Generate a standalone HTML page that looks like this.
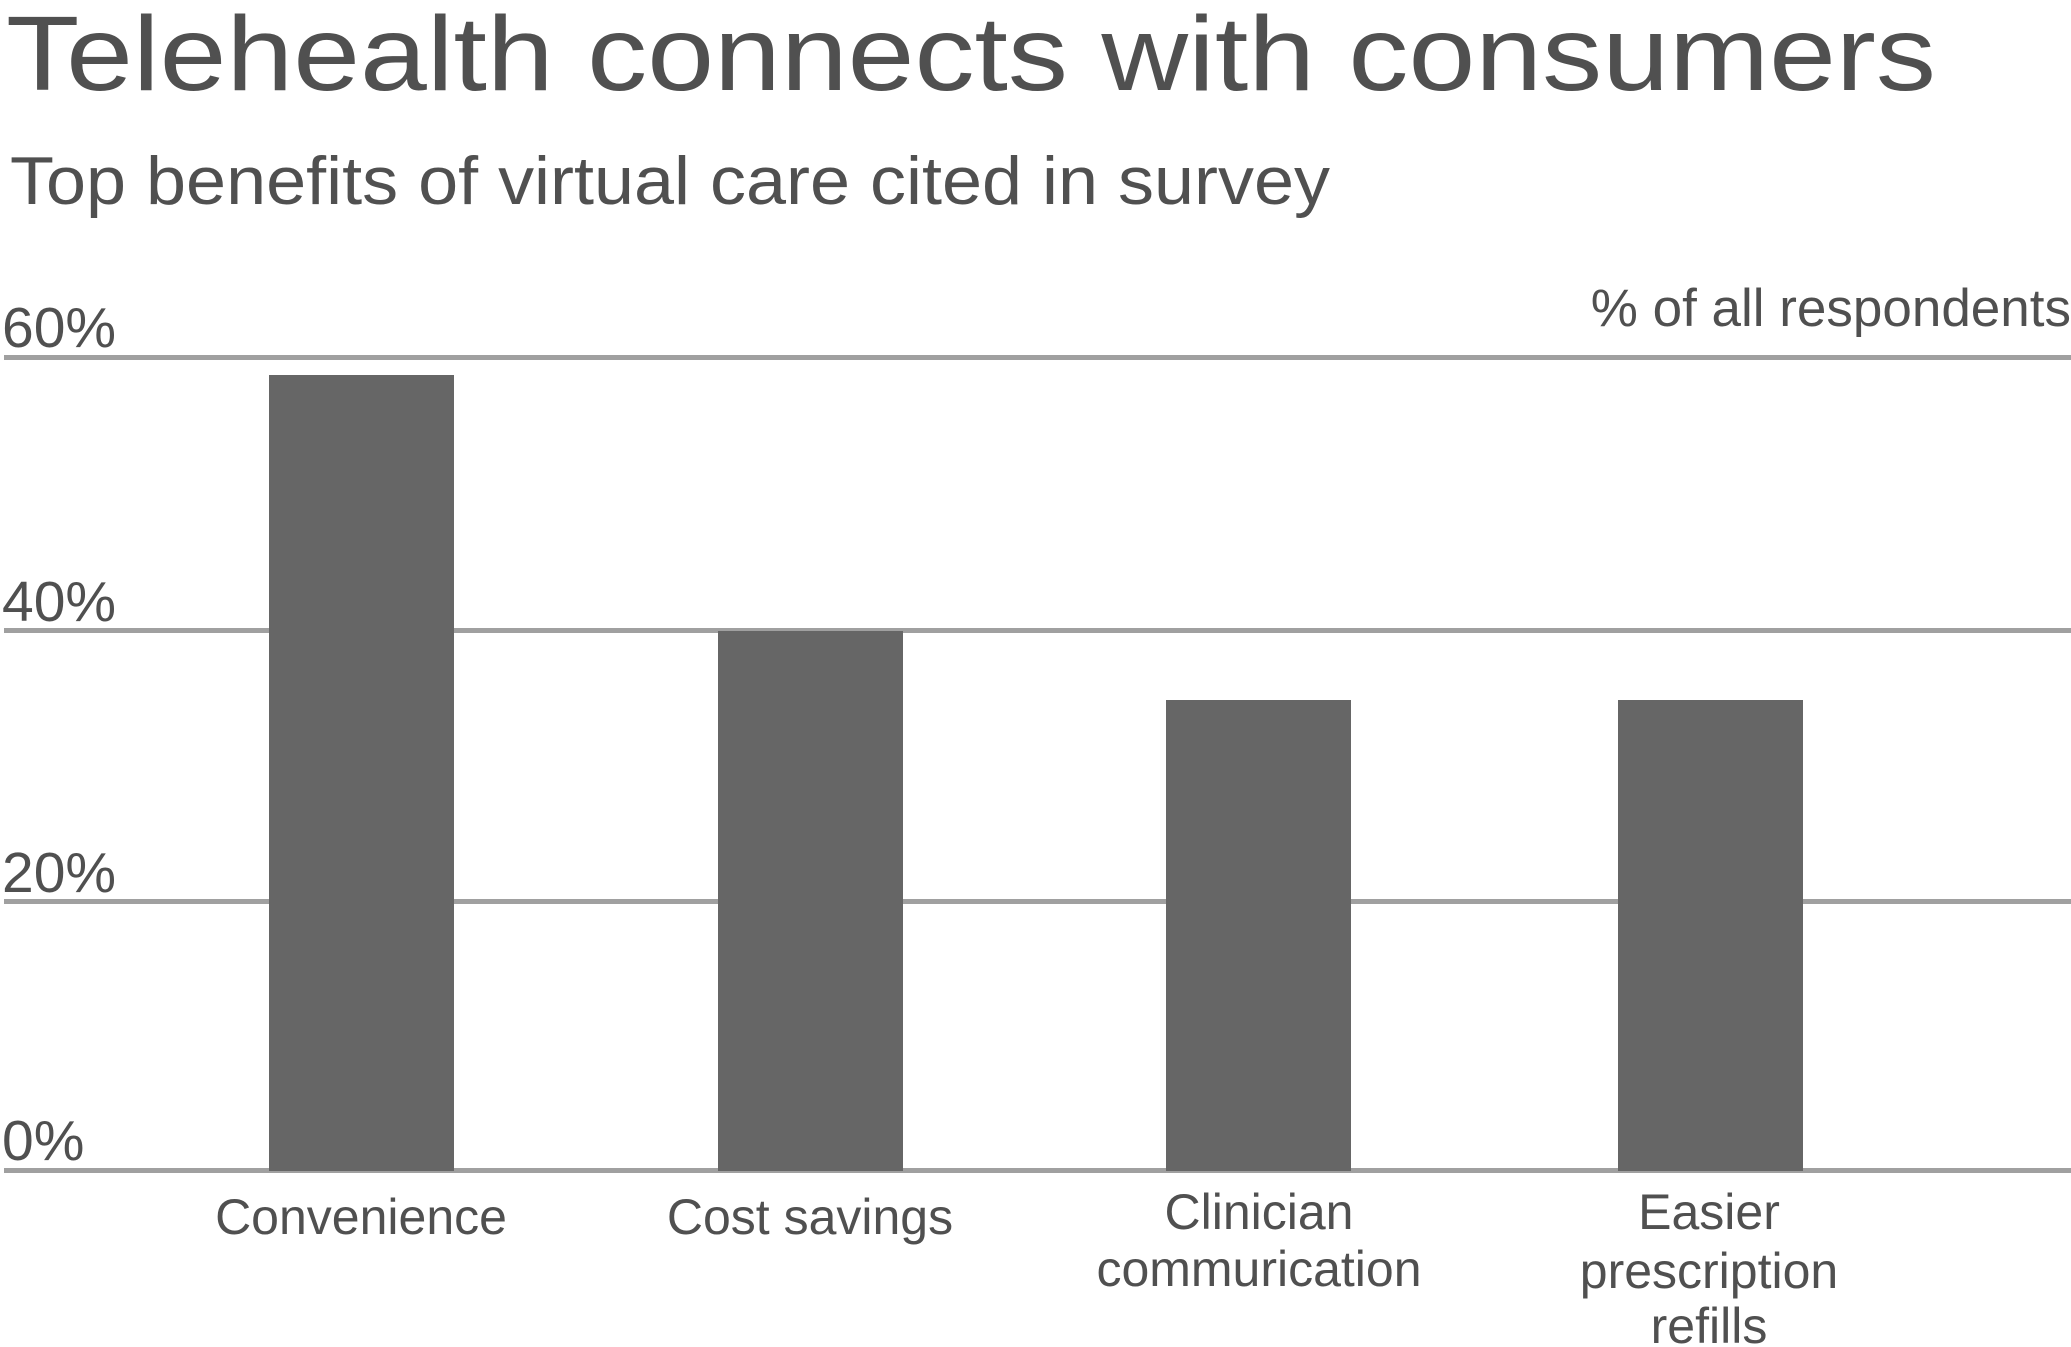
<!DOCTYPE html>
<html><head><meta charset="utf-8"><style>
html,body{margin:0;padding:0;background:#fff;}
svg{display:block;}
text{font-family:"Liberation Sans",sans-serif;fill:#505050;}
</style></head><body>
<svg width="2071" height="1347" viewBox="0 0 2071 1347" xmlns="http://www.w3.org/2000/svg">
<text x="6" y="90" font-size="106" textLength="1930" lengthAdjust="spacingAndGlyphs">Telehealth connects with consumers</text>
<text x="10" y="204" font-size="68" textLength="1320" lengthAdjust="spacingAndGlyphs">Top benefits of virtual care cited in survey</text>
<text x="2071" y="326" font-size="53" text-anchor="end">% of all respondents</text>
<g fill="#a0a0a0">
<rect x="4" y="355" width="2067" height="5"/>
<rect x="4" y="628" width="2067" height="5"/>
<rect x="4" y="899" width="2067" height="5"/>
<rect x="4" y="1168" width="2067" height="5"/>
</g>
<g font-size="57">
<text x="2" y="347">60%</text>
<text x="2" y="621">40%</text>
<text x="2" y="892">20%</text>
<text x="2" y="1160">0%</text>
</g>
<g fill="#666666">
<rect x="269" y="375" width="185" height="796"/>
<rect x="718" y="631" width="185" height="540"/>
<rect x="1166" y="700" width="185" height="471"/>
<rect x="1618" y="700" width="185" height="471"/>
</g>
<g font-size="50" text-anchor="middle">
<text x="361" y="1234">Convenience</text>
<text x="810" y="1234">Cost savings</text>
<text x="1259" y="1229">Clinician</text>
<text x="1259" y="1286">commurication</text>
<text x="1709" y="1229">Easier</text>
<text x="1709" y="1288">prescription</text>
<text x="1709" y="1343">refills</text>
</g>
</svg>
</body></html>
